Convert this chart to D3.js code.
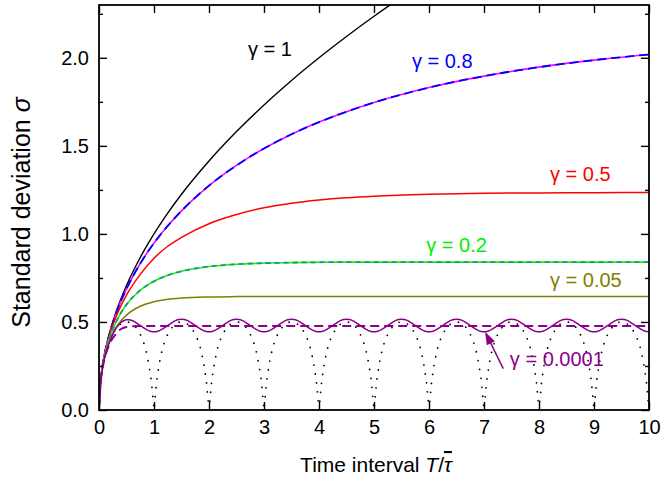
<!DOCTYPE html>
<html>
<head>
<meta charset="utf-8">
<script src="https://cdn.jsdelivr.net/npm/d3@7"></script>
<style>
  body { margin: 0; background: #fff; }
  svg { display: block; }
  text { font-family: "Liberation Sans", Arial, Helvetica, sans-serif; }
</style>
</head>
<body>
<svg id="chart"></svg>
<script>
// time grid (T / tau) for the smooth curves
var tGrid = [0, 0.02, 0.05, 0.1, 0.15, 0.2, 0.3, 0.4, 0.5, 0.75, 1, 1.25, 1.5, 2, 2.5, 3, 3.5, 4, 4.5, 5, 6, 7, 8, 9, 10];
var tBlack = [0, 0.02, 0.05, 0.1, 0.15, 0.2, 0.3, 0.4, 0.5, 0.75, 1, 1.25, 1.5, 2, 2.5, 3, 3.5, 4, 4.5, 5, 5.5];

var sigmaG1 = [0, 0.141, 0.224, 0.316, 0.387, 0.447, 0.548, 0.632, 0.707, 0.866, 1.0, 1.118, 1.225, 1.414, 1.581, 1.732, 1.871, 2.0, 2.121, 2.236, 2.345];
var sigmaG08 = [0, 0.141, 0.223, 0.315, 0.384, 0.442, 0.539, 0.619, 0.688, 0.832, 0.948, 1.046, 1.131, 1.274, 1.389, 1.485, 1.566, 1.635, 1.694, 1.746, 1.831, 1.896, 1.947, 1.987, 2.019];
var sigmaG05 = [0, 0.141, 0.222, 0.311, 0.378, 0.433, 0.522, 0.593, 0.653, 0.770, 0.862, 0.930, 0.980, 1.058, 1.110, 1.148, 1.174, 1.192, 1.205, 1.214, 1.225, 1.231, 1.233, 1.234, 1.235];
var sigmaG02 = [0, 0.140, 0.220, 0.305, 0.368, 0.417, 0.494, 0.553, 0.599, 0.680, 0.731, 0.765, 0.788, 0.815, 0.828, 0.834, 0.837, 0.839, 0.840, 0.840, 0.840, 0.840, 0.840, 0.840, 0.840];
var sigmaG005 = [0, 0.140, 0.217, 0.298, 0.355, 0.398, 0.462, 0.507, 0.539, 0.589, 0.615, 0.629, 0.636, 0.642, 0.644, 0.645, 0.645, 0.645, 0.645, 0.645, 0.645, 0.645, 0.645, 0.645, 0.645];
var sigmaApprox = [0, 0.140, 0.215, 0.290, 0.340, 0.380, 0.430, 0.460, 0.472, 0.477, 0.477, 0.477, 0.477, 0.477, 0.477, 0.477, 0.477, 0.477, 0.477, 0.477, 0.477, 0.477, 0.477, 0.477, 0.477];

// gamma = 0.0001 and gamma = 0, sampled every 0.05 (one row per unit of T)
var tFine = d3.range(0, 201).map(function (i) { return i * 0.05; });
var sigmaG00001 = [
  0, 0.200, 0.295, 0.350, 0.390, 0.430, 0.460, 0.480, 0.497, 0.507, 0.512, 0.512, 0.508, 0.500, 0.490, 0.480, 0.469, 0.459, 0.451, 0.446,
  0.445, 0.446, 0.451, 0.459, 0.469, 0.480, 0.491, 0.501, 0.509, 0.514, 0.515, 0.514, 0.509, 0.501, 0.491, 0.480, 0.469, 0.459, 0.451, 0.446,
  0.445, 0.446, 0.451, 0.459, 0.469, 0.480, 0.491, 0.501, 0.509, 0.514, 0.515, 0.514, 0.509, 0.501, 0.491, 0.480, 0.469, 0.459, 0.451, 0.446,
  0.445, 0.446, 0.451, 0.459, 0.469, 0.480, 0.491, 0.501, 0.509, 0.514, 0.515, 0.514, 0.509, 0.501, 0.491, 0.480, 0.469, 0.459, 0.451, 0.446,
  0.445, 0.446, 0.451, 0.459, 0.469, 0.480, 0.491, 0.501, 0.509, 0.514, 0.515, 0.514, 0.509, 0.501, 0.491, 0.480, 0.469, 0.459, 0.451, 0.446,
  0.445, 0.446, 0.451, 0.459, 0.469, 0.480, 0.491, 0.501, 0.509, 0.514, 0.515, 0.514, 0.509, 0.501, 0.491, 0.480, 0.469, 0.459, 0.451, 0.446,
  0.445, 0.446, 0.451, 0.459, 0.469, 0.480, 0.491, 0.501, 0.509, 0.514, 0.515, 0.514, 0.509, 0.501, 0.491, 0.480, 0.469, 0.459, 0.451, 0.446,
  0.445, 0.446, 0.451, 0.459, 0.469, 0.480, 0.491, 0.501, 0.509, 0.514, 0.515, 0.514, 0.509, 0.501, 0.491, 0.480, 0.469, 0.459, 0.451, 0.446,
  0.445, 0.446, 0.451, 0.459, 0.469, 0.480, 0.491, 0.501, 0.509, 0.514, 0.515, 0.514, 0.509, 0.501, 0.491, 0.480, 0.469, 0.459, 0.451, 0.446,
  0.445, 0.446, 0.451, 0.459, 0.469, 0.480, 0.491, 0.501, 0.509, 0.514, 0.515, 0.514, 0.509, 0.501, 0.491, 0.480, 0.469, 0.459, 0.451, 0.446,
  0.445
];
var sigmaG0 = [
  0, 0.210, 0.290, 0.345, 0.395, 0.430, 0.458, 0.477, 0.490, 0.498, 0.500, 0.498, 0.490, 0.477, 0.458, 0.430, 0.395, 0.345, 0.270, 0.170,
  0, 0.170, 0.270, 0.345, 0.395, 0.430, 0.458, 0.477, 0.490, 0.498, 0.500, 0.498, 0.490, 0.477, 0.458, 0.430, 0.395, 0.345, 0.270, 0.170,
  0, 0.170, 0.270, 0.345, 0.395, 0.430, 0.458, 0.477, 0.490, 0.498, 0.500, 0.498, 0.490, 0.477, 0.458, 0.430, 0.395, 0.345, 0.270, 0.170,
  0, 0.170, 0.270, 0.345, 0.395, 0.430, 0.458, 0.477, 0.490, 0.498, 0.500, 0.498, 0.490, 0.477, 0.458, 0.430, 0.395, 0.345, 0.270, 0.170,
  0, 0.170, 0.270, 0.345, 0.395, 0.430, 0.458, 0.477, 0.490, 0.498, 0.500, 0.498, 0.490, 0.477, 0.458, 0.430, 0.395, 0.345, 0.270, 0.170,
  0, 0.170, 0.270, 0.345, 0.395, 0.430, 0.458, 0.477, 0.490, 0.498, 0.500, 0.498, 0.490, 0.477, 0.458, 0.430, 0.395, 0.345, 0.270, 0.170,
  0, 0.170, 0.270, 0.345, 0.395, 0.430, 0.458, 0.477, 0.490, 0.498, 0.500, 0.498, 0.490, 0.477, 0.458, 0.430, 0.395, 0.345, 0.270, 0.170,
  0, 0.170, 0.270, 0.345, 0.395, 0.430, 0.458, 0.477, 0.490, 0.498, 0.500, 0.498, 0.490, 0.477, 0.458, 0.430, 0.395, 0.345, 0.270, 0.170,
  0, 0.170, 0.270, 0.345, 0.395, 0.430, 0.458, 0.477, 0.490, 0.498, 0.500, 0.498, 0.490, 0.477, 0.458, 0.430, 0.395, 0.345, 0.270, 0.170,
  0, 0.170, 0.270, 0.345, 0.395, 0.430, 0.458, 0.477, 0.490, 0.498, 0.500, 0.498, 0.490, 0.477, 0.458, 0.430, 0.395, 0.345, 0.270, 0.170,
  0
];

var xTicks = [0, 1, 2, 3, 4, 5, 6, 7, 8, 9, 10];
var yTicks = [0, 0.5, 1.0, 1.5, 2.0];
var yMinorTicks = [0.25, 0.75, 1.25, 1.75, 2.25];

var width = 661, height = 478;
var margin = { top: 5, right: 12, bottom: 68, left: 99 };
var w = width - margin.left - margin.right,
  h = height - margin.top - margin.bottom;

var svg = d3.select("#chart").attr("width", width).attr("height", height);
var g = svg.append("g").attr("transform", "translate(" + margin.left + "," + margin.top + ")");

var x = d3.scaleLinear().domain([0, 10]).range([0, w]);
var y = d3.scaleLinear().domain([0, 2.3]).range([h, 0]);

g.append("clipPath").attr("id", "clip")
  .append("rect").attr("width", w).attr("height", h);

function pairs(ts, vs) {
  return ts.map(function (t, i) { return [t, vs[i]]; });
}

var smooth = d3.line()
  .x(function (d) { return x(d[0]); })
  .y(function (d) { return y(d[1]); })
  .curve(d3.curveMonotoneX);
var straight = d3.line()
  .x(function (d) { return x(d[0]); })
  .y(function (d) { return y(d[1]); });

var plot = g.append("g").attr("clip-path", "url(#clip)").attr("fill", "none");

function addLine(data, gen, color, sw, dash, cap) {
  var p = plot.append("path").attr("d", gen(data))
    .attr("stroke", color).attr("stroke-width", sw);
  if (dash) p.attr("stroke-dasharray", dash);
  if (cap) p.attr("stroke-linecap", cap);
  return p;
}

addLine(pairs(tBlack, sigmaG1), smooth, "#000", 1.4);
addLine(pairs(tGrid, sigmaG08), smooth, "#ff00ff", 1.6);
addLine(pairs(tGrid, sigmaG08), smooth, "#0000ff", 1.8, "9,5");
addLine(pairs(tGrid, sigmaG05), smooth, "#ff0000", 1.5);
addLine(pairs(tGrid, sigmaG02), smooth, "#00ff00", 1.6);
addLine(pairs(tGrid, sigmaG02), smooth, "#2e8b8b", 1.8, "5,4");
addLine(pairs(tGrid, sigmaG005), smooth, "#808000", 1.5);
addLine(pairs(tFine, sigmaG0), straight, "#000", 1.8, "0,9", "round");
addLine(pairs(tFine, sigmaG00001), smooth, "#8b008b", 1.5);
addLine(pairs(tGrid, sigmaApprox), smooth, "#8b008b", 2, "9,5");

// axes, ticks pointing inward
var axisG = g.append("g");
axisG.append("g").attr("transform", "translate(0," + h + ")")
  .call(d3.axisBottom(x).tickValues(xTicks).tickSize(-8).tickPadding(10).tickFormat(d3.format("d")));
axisG.append("g")
  .call(d3.axisTop(x).tickValues(xTicks).tickSize(-8).tickFormat(""));
axisG.append("g")
  .call(d3.axisLeft(y).tickValues(yTicks).tickSize(-8).tickPadding(10).tickFormat(d3.format(".1f")));
axisG.append("g")
  .call(d3.axisLeft(y).tickValues(yMinorTicks).tickSize(-4).tickFormat(""));
axisG.append("g").attr("transform", "translate(" + w + ",0)")
  .call(d3.axisRight(y).tickValues(yTicks).tickSize(-8).tickFormat(""));
axisG.append("g").attr("transform", "translate(" + w + ",0)")
  .call(d3.axisRight(y).tickValues(yMinorTicks).tickSize(-4).tickFormat(""));
axisG.selectAll(".domain").remove();
axisG.selectAll(".tick line").attr("stroke", "#000").attr("stroke-width", 1.4);
axisG.selectAll(".tick text").attr("font-size", "20px").attr("fill", "#000")
  .attr("font-family", "Liberation Sans, Arial, sans-serif");

g.append("rect").attr("width", w).attr("height", h)
  .attr("fill", "none").attr("stroke", "#000").attr("stroke-width", 1.8);

// curve labels
var labels = [
  { text: "\u03b3 = 1", t: 2.71, s: 2.01, color: "#000" },
  { text: "\u03b3 = 0.8", t: 5.69, s: 1.94, color: "#0000ff" },
  { text: "\u03b3 = 0.5", t: 8.2, s: 1.3, color: "#ff0000" },
  { text: "\u03b3 = 0.2", t: 5.95, s: 0.9, color: "#00ee00" },
  { text: "\u03b3 = 0.05", t: 8.2, s: 0.7, color: "#808000" },
  { text: "\u03b3 = 0.0001", t: 7.47, s: 0.25, color: "#8b008b" }
];
g.selectAll(".clabel").data(labels).enter().append("text")
  .attr("class", "clabel")
  .attr("x", function (d) { return x(d.t); })
  .attr("y", function (d) { return y(d.s); })
  .attr("font-size", "20px")
  .attr("fill", function (d) { return d.color; })
  .text(function (d) { return d.text; });

// arrow from the 0.0001 label to the curve
var ax0 = x(7.35), ay0 = y(0.235), ax1 = x(7.02), ay1 = y(0.445);
var ang = Math.atan2(ay1 - ay0, ax1 - ax0);
g.append("line").attr("x1", ax0).attr("y1", ay0)
  .attr("x2", ax1 - 10 * Math.cos(ang)).attr("y2", ay1 - 10 * Math.sin(ang))
  .attr("stroke", "#8b008b").attr("stroke-width", 1.5);
g.append("path")
  .attr("d", "M0,0L-13,-4.5L-13,4.5Z")
  .attr("fill", "#8b008b")
  .attr("transform", "translate(" + ax1 + "," + ay1 + ") rotate(" + (ang * 180 / Math.PI) + ")");

// axis titles
var xt = svg.append("text")
  .attr("x", margin.left + w / 2 + 2).attr("y", 472)
  .attr("text-anchor", "middle").attr("font-size", "21px");
xt.append("tspan").text("Time interval ");
xt.append("tspan").attr("font-style", "italic").text("T");
xt.append("tspan").text("/");
xt.append("tspan").attr("font-style", "italic").style("text-decoration", "overline").text("\u03c4");

var yt = svg.append("text")
  .attr("transform", "translate(30," + (margin.top + h / 2 + 5) + ") rotate(-90)")
  .attr("text-anchor", "middle").attr("font-size", "25px");
yt.append("tspan").text("Standard deviation  ");
yt.append("tspan").attr("font-style", "italic").text("\u03c3");
</script>
</body>
</html>
